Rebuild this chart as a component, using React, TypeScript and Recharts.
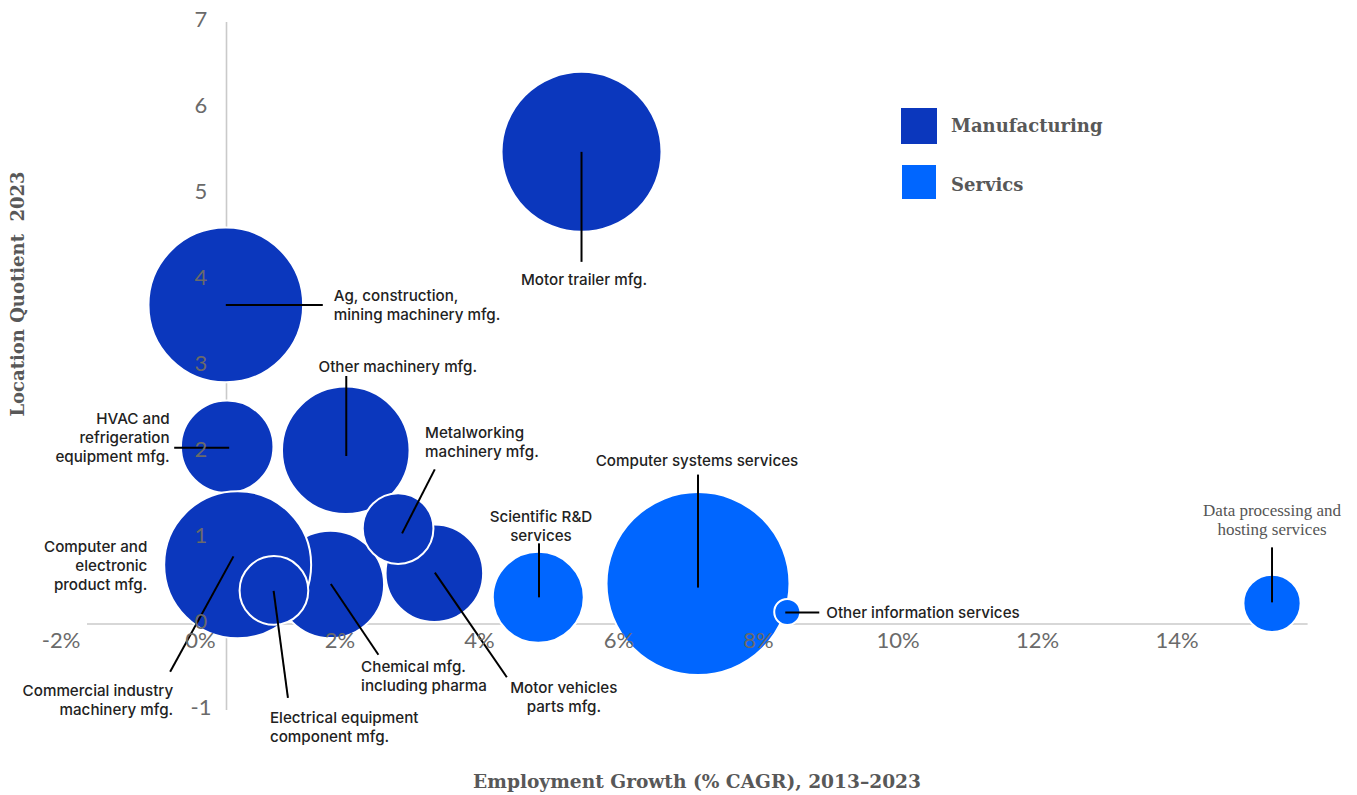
import React from 'react';
import { ScatterChart, Scatter, XAxis, YAxis, ZAxis, ReferenceLine } from 'recharts';

// manufacturing industries (draw order matters, later ones sit on top)
const MFG_NAMES = [
  'HVAC and refrigeration equipment mfg.',
  'Ag, construction, mining machinery mfg.',
  'Other machinery mfg.',
  'Chemical mfg. including pharma',
  'Motor vehicles parts mfg.',
  'Metalworking machinery mfg.',
  'Computer and electronic product mfg.',
  'Commercial industry machinery mfg.',
  'Electrical equipment component mfg.',
  'Motor trailer mfg.',
];
const MFG_GROWTH = [0.01, -0.01, 1.71, 1.49, 2.98, 2.46, 0.02, 0.16, 0.68, 5.09];
const MFG_LQ = [2.06, 3.71, 2.02, 0.46, 0.59, 1.11, 0.74, 0.69, 0.39, 5.49];
const MFG_SIZE = [21.4, 59.8, 40.7, 28.8, 23.8, 12.5, 30, 54, 11.8, 64];

// services
const SVC_NAMES = [
  'Scientific R&D services',
  'Computer systems services',
  'Other information services',
  'Data processing and hosting services',
];
const SVC_GROWTH = [4.47, 6.76, 8.04, 14.99];
const SVC_LQ = [0.31, 0.47, 0.14, 0.24];
const SVC_SIZE = [20.7, 83.7, 1.7, 8.2];

const X_TICKS = [-2, 0, 2, 4, 6, 8, 10, 12, 14];
const Y_TICKS = [-1, 0, 1, 2, 3, 4, 5, 6, 7];
const X_DOMAIN: [number, number] = [-2, 15.5];
const Y_DOMAIN: [number, number] = [-1, 7];

const MFG_COLOR = '#0b37bd';
const SVC_COLOR = '#0066ff';
const TICK_COLOR = '#6a6a6a';
const TITLE_COLOR = '#585858';
const AXIS_COLOR = '#cacaca';

const W = 1357;
const H = 795;
const AXIS_W = 30;
const AXIS_H = 30;
const M = { top: 22, right: 49.4, bottom: 85 - AXIS_H, left: 87 - AXIS_W };

// where the zero lines fall, used to hang the tick labels on them
const plotL = M.left + AXIS_W;
const plotW = W - plotL - M.right;
const plotH = H - M.top - M.bottom - AXIS_H;
const zeroX = plotL + ((0 - X_DOMAIN[0]) / (X_DOMAIN[1] - X_DOMAIN[0])) * plotW;
const zeroY = M.top + ((Y_DOMAIN[1] - 0) / (Y_DOMAIN[1] - Y_DOMAIN[0])) * plotH;

const toRows = (names: string[], xs: number[], ys: number[], zs: number[]) =>
  names.map((name, i) => ({ name, x: xs[i], y: ys[i], z: zs[i] }));

const mfgData = toRows(MFG_NAMES, MFG_GROWTH, MFG_LQ, MFG_SIZE);
const svcData = toRows(SVC_NAMES, SVC_GROWTH, SVC_LQ, SVC_SIZE);
const allData = [...mfgData, ...svcData];

// leader lines + label placement, offsets in px from the bubble centre
type Callout = {
  line?: [number, number, number, number];
  tx: number;
  ty: number;
  anchor: 'start' | 'middle' | 'end';
  lines: string[];
  serif?: boolean;
};
const CALLOUTS: Record<string, Callout> = {
  'Motor trailer mfg.': { line: [0, 0, 0, 110], tx: 2.5, ty: 128, anchor: 'middle', lines: ['Motor trailer mfg.'] },
  'Ag, construction, mining machinery mfg.': {
    line: [0, 0, 97, 0], tx: 108, ty: -9, anchor: 'start', lines: ['Ag, construction,', 'mining machinery mfg.'],
  },
  'HVAC and refrigeration equipment mfg.': {
    line: [-53, 1, 2, 1], tx: -57.5, ty: -27.8, anchor: 'end', lines: ['HVAC and', 'refrigeration', 'equipment mfg.'],
  },
  'Other machinery mfg.': { line: [0.5, 5.7, 0.5, -74.3], tx: 52, ty: -84, anchor: 'middle', lines: ['Other machinery mfg.'] },
  'Metalworking machinery mfg.': {
    line: [4, 4.8, 36.7, -59.2], tx: 27, ty: -95.8, anchor: 'start', lines: ['Metalworking', 'machinery mfg.'],
  },
  'Computer and electronic product mfg.': {
    tx: -80.5, ty: -14, anchor: 'end', lines: ['Computer and', 'electronic', 'product mfg.'],
  },
  'Commercial industry machinery mfg.': {
    line: [-4.2, -8.3, -67.5, 107], tx: -64.5, ty: 126, anchor: 'end', lines: ['Commercial industry', 'machinery mfg.'],
  },
  'Electrical equipment component mfg.': {
    line: [-0.3, 0.5, 14, 107.5], tx: -4, ty: 127.5, anchor: 'start', lines: ['Electrical equipment', 'component mfg.'],
  },
  'Chemical mfg. including pharma': {
    line: [0.4, -0.4, 48, 70.3], tx: 30.7, ty: 82.3, anchor: 'start', lines: ['Chemical mfg.', 'including pharma'],
  },
  'Motor vehicles parts mfg.': {
    line: [0.5, -0.7, 72.5, 104], tx: 129.5, ty: 114, anchor: 'middle', lines: ['Motor vehicles', 'parts mfg.'],
  },
  'Scientific R&D services': {
    line: [0.7, 0, 0.7, -54], tx: 2.7, ty: -81, anchor: 'middle', lines: ['Scientific R&D', 'services'],
  },
  'Computer systems services': {
    line: [0, 4, 0, -109], tx: -1, ty: -123, anchor: 'middle', lines: ['Computer systems services'],
  },
  'Other information services': {
    line: [-2, 0.5, 32, 0.5], tx: 39, ty: 0.5, anchor: 'start', lines: ['Other information services'],
  },
  'Data processing and hosting services': {
    line: [0, -1, 0, -56], tx: 0, ty: -93, anchor: 'middle', lines: ['Data processing and', 'hosting services'], serif: true,
  },
};

const bubble = (color: string) => (props: any) => (
  <circle cx={props.cx} cy={props.cy} r={props.width / 2} fill={color} stroke="#ffffff" strokeWidth={2} />
);

const Annotation = (props: any) => {
  const c = CALLOUTS[props.payload?.name];
  if (!c) return <g />;
  const { cx, cy } = props;
  return (
    <g>
      {c.line && (
        <line
          x1={cx + c.line[0]}
          y1={cy + c.line[1]}
          x2={cx + c.line[2]}
          y2={cy + c.line[3]}
          stroke="#000"
          strokeWidth={2}
        />
      )}
      <text
        x={cx + c.tx}
        y={cy + c.ty}
        textAnchor={c.anchor}
        fill={c.serif ? '#555' : '#222'}
        fontFamily={c.serif ? '"Liberation Serif", serif' : 'Inter, sans-serif'}
        fontWeight={c.serif ? 400 : 500}
        fontSize={c.serif ? 17 : 15.2}
      >
        {c.lines.map((l, i) => (
          <tspan key={i} x={cx + c.tx} dy={i === 0 ? '0.35em' : 19}>
            {l}
          </tspan>
        ))}
      </text>
    </g>
  );
};

const XTick = (props: any) => (
  <text
    x={props.x - 26}
    y={zeroY + 16.5}
    dy="0.35em"
    textAnchor="middle"
    fill={TICK_COLOR}
    fontFamily="Lato, sans-serif"
    fontWeight={400}
    fontSize={22}
  >
    {`${props.payload.value}%`}
  </text>
);

const YTick = (props: any) => (
  <text
    x={zeroX - 25.5}
    y={props.y - 2.5}
    dy="0.35em"
    textAnchor="middle"
    fill={TICK_COLOR}
    fontFamily="Lato, sans-serif"
    fontWeight={400}
    fontSize={22}
  >
    {props.payload.value}
  </text>
);

const titleFont: React.CSSProperties = {
  position: 'absolute',
  fontFamily: '"DejaVu Serif", serif',
  fontWeight: 700,
  color: TITLE_COLOR,
  whiteSpace: 'pre',
  lineHeight: 1,
};

const LegendBox = () => (
  <div style={{ position: 'absolute', left: 901, top: 107.7 }}>
    <div style={{ display: 'flex', alignItems: 'center', height: 36 }}>
      <div style={{ width: 36, height: 36, background: MFG_COLOR }} />
      <span style={{ ...titleFont, position: 'static', fontSize: 18, marginLeft: 14 }}>Manufacturing</span>
    </div>
    <div style={{ display: 'flex', alignItems: 'center', height: 34, marginTop: 21.3, marginLeft: 1 }}>
      <div style={{ width: 34, height: 34, background: SVC_COLOR }} />
      <span style={{ ...titleFont, position: 'relative', top: 3, fontSize: 18, marginLeft: 15 }}>Servics</span>
    </div>
  </div>
);

export default function App() {
  return (
    <div style={{ position: 'absolute', left: 0, top: 0, width: W, height: H, background: '#fff' }}>
      <ScatterChart width={W} height={H} margin={M}>
        <ReferenceLine x={0} stroke={AXIS_COLOR} strokeWidth={1.6} />
        <ReferenceLine y={0} stroke={AXIS_COLOR} strokeWidth={1.6} />
        <ZAxis type="number" dataKey="z" domain={[0, 100]} range={[0, 10000 * Math.PI]} />
        <Scatter name="Manufacturing" data={mfgData} shape={bubble(MFG_COLOR)} isAnimationActive={false} />
        <Scatter name="Servics" data={svcData} shape={bubble(SVC_COLOR)} isAnimationActive={false} />
        <XAxis
          type="number"
          dataKey="x"
          domain={X_DOMAIN}
          ticks={X_TICKS}
          interval={0}
          height={AXIS_H}
          axisLine={false}
          tickLine={false}
          tick={XTick}
        />
        <YAxis
          type="number"
          dataKey="y"
          domain={Y_DOMAIN}
          ticks={Y_TICKS}
          interval={0}
          width={AXIS_W}
          axisLine={false}
          tickLine={false}
          tick={YTick}
        />
        <Scatter name="labels" data={allData} shape={Annotation} legendType="none" isAnimationActive={false} />
      </ScatterChart>
      <div
        style={{
          ...titleFont,
          fontSize: 18.6,
          left: 697,
          top: 782,
          transform: 'translate(-50%, -50%)',
        }}
      >
        Employment Growth (% CAGR), 2013–2023
      </div>
      <div
        style={{
          ...titleFont,
          fontSize: 18,
          left: 18,
          top: 294,
          transform: 'translate(-50%, -50%) rotate(-90deg)',
        }}
      >
        {'Location Quotient  2023'}
      </div>
      <LegendBox />
    </div>
  );
}
